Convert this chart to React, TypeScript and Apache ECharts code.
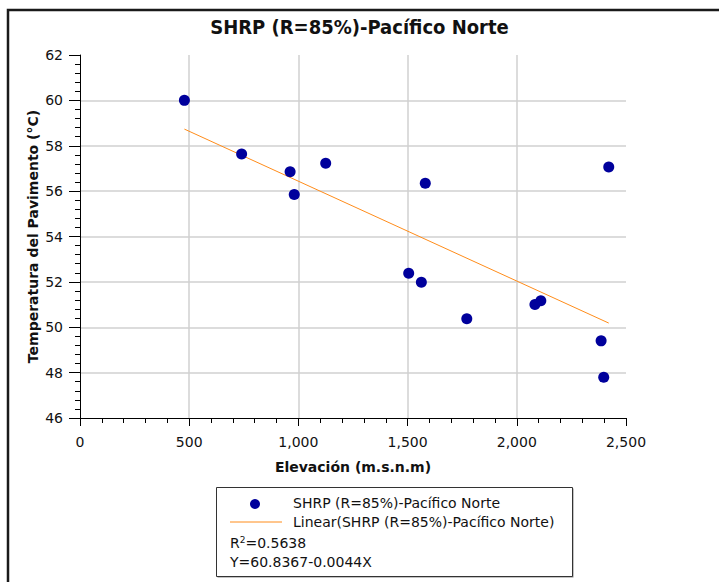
import React, { useEffect, useRef } from "react";
import * as echarts from "echarts";

const titleText = "SHRP (R=85%)-Pacífico Norte";
const xAxisName = "Elevación (m.s.n.m)";
const yAxisName = "Temperatura del Pavimento (°C)";
const seriesName = "SHRP (R=85%)-Pacífico Norte";
const trendName = "Linear(SHRP (R=85%)-Pacífico Norte)";

const elevacion = [478, 740, 962, 981, 1125, 1505, 1563, 1581, 1771, 2083, 2110, 2386, 2398, 2421];
const temperatura = [60.0, 57.64, 56.85, 55.85, 57.23, 52.38, 51.98, 56.35, 50.37, 51.0, 51.17, 49.4, 47.8, 57.06];

const trendIntercept = 60.8367;
const trendSlope = -0.0044;
const rSquared = "0.5638";

const xMin = 0, xMax = 2500, xInterval = 500;
const yMin = 46, yMax = 62, yInterval = 2;

const FONT = "DejaVu Sans";
const NAVY = "#00009c";
const ORANGE = "#ff8c1a";

export default function App() {
  const ref = useRef<HTMLDivElement>(null);
  useEffect(() => {
    if (!ref.current) return;
    const chart = echarts.init(ref.current, null, { renderer: "svg" });
    const pts = elevacion.map((x, i) => [x, temperatura[i]]);
    const x0 = Math.min(...elevacion);
    const x1 = Math.max(...elevacion);
    const trend = [
      [x0, trendIntercept + trendSlope * x0],
      [x1, trendIntercept + trendSlope * x1],
    ];
    chart.setOption({
      animation: false,
      backgroundColor: "#ffffff",
      title: {
        text: titleText,
        left: "center",
        top: 12,
        textStyle: { fontFamily: "DejaVu Sans Condensed", fontWeight: "bold", fontSize: 20, color: "#111" },
      },
      grid: { left: 80, top: 55, right: 93, bottom: 164 },
      xAxis: {
        type: "value",
        min: xMin,
        max: xMax,
        interval: xInterval,
        name: xAxisName,
        nameLocation: "middle",
        nameGap: 42,
        nameMoveOverlap: false,
        nameTextStyle: { fontFamily: FONT, fontWeight: "bold", fontSize: 14, color: "#111" },
        axisLine: { show: true, onZero: false, lineStyle: { color: "#000", width: 1 } },
        axisTick: { show: true, inside: false, length: 8, lineStyle: { color: "#000" } },
        minorTick: { show: true, splitNumber: 5, length: 5, lineStyle: { color: "#000" } },
        axisLabel: {
          margin: 17,
          fontFamily: FONT,
          fontSize: 14,
          color: "#111",
          formatter: (v: number) => v.toLocaleString("en-US"),
        },
        splitLine: { show: true, showMinLine: false, showMaxLine: false, lineStyle: { color: "#d0d0d0", width: 1.5 } },
      },
      yAxis: {
        type: "value",
        min: yMin,
        max: yMax,
        interval: yInterval,
        name: yAxisName,
        nameLocation: "middle",
        nameGap: 40,
        nameMoveOverlap: false,
        nameTextStyle: { fontFamily: FONT, fontWeight: "bold", fontSize: 14, color: "#111" },
        axisLine: { show: true, onZero: false, lineStyle: { color: "#000", width: 1 } },
        axisTick: { show: true, inside: false, length: 11, lineStyle: { color: "#000" } },
        minorTick: { show: true, splitNumber: 5, length: 5, lineStyle: { color: "#000" } },
        axisLabel: { margin: 17, fontFamily: FONT, fontSize: 14, color: "#111" },
        splitLine: { show: true, showMinLine: false, showMaxLine: false, lineStyle: { color: "#d0d0d0", width: 1.5 } },
      },
      series: [
        {
          name: trendName,
          type: "line",
          data: trend,
          symbol: "none",
          lineStyle: { color: ORANGE, width: 1 },
          z: 2,
        },
        {
          name: seriesName,
          type: "scatter",
          data: pts,
          symbolSize: 11,
          itemStyle: { color: NAVY, opacity: 1 },
          z: 3,
        },
      ],
      graphic: [
        {
          type: "rect",
          shape: { x: 8, y: 10, width: 730, height: 600 },
          style: { fill: "none", stroke: "#1a1a1a", lineWidth: 2.5 },
          silent: true,
        },
        {
          type: "rect",
          shape: { x: 217.5, y: 488.5, width: 356, height: 89 },
          style: { fill: "#888" },
          silent: true,
        },
        {
          type: "rect",
          shape: { x: 216.5, y: 487.5, width: 356, height: 89 },
          style: { fill: "#fff", stroke: "#333", lineWidth: 1 },
          silent: true,
        },
        { type: "circle", shape: { cx: 255, cy: 504, r: 5 }, style: { fill: NAVY } },
        { type: "line", shape: { x1: 230, y1: 522, x2: 282, y2: 522 }, style: { stroke: ORANGE, lineWidth: 1 } },
        {
          type: "text",
          x: 293,
          y: 503,
          style: { text: seriesName, fontFamily: FONT, fontSize: 14, fill: "#111", verticalAlign: "middle" },
        },
        {
          type: "text",
          x: 293,
          y: 522,
          style: { text: trendName, fontFamily: FONT, fontSize: 14, fill: "#111", verticalAlign: "middle" },
        },
        {
          type: "text",
          x: 230,
          y: 543,
          style: {
            text: "R{sup|2}=" + rSquared,
            fontFamily: FONT,
            fontSize: 14,
            fill: "#111",
            verticalAlign: "middle",
            rich: { sup: { fontFamily: FONT, fontSize: 9, fill: "#111", verticalAlign: "top", padding: [0, 0, 6, 0] } },
          },
        },
        {
          type: "text",
          x: 230,
          y: 562,
          style: {
            text: "Y=" + trendIntercept.toFixed(4) + "-" + Math.abs(trendSlope).toFixed(4) + "X",
            fontFamily: FONT,
            fontSize: 14,
            fill: "#111",
            verticalAlign: "middle",
          },
        },
      ],
    });
    return () => chart.dispose();
  }, []);
  return (
    <div
      ref={ref}
      style={{ position: "fixed", left: 0, top: 0, width: 719, height: 582, background: "#fff" }}
    />
  );
}
